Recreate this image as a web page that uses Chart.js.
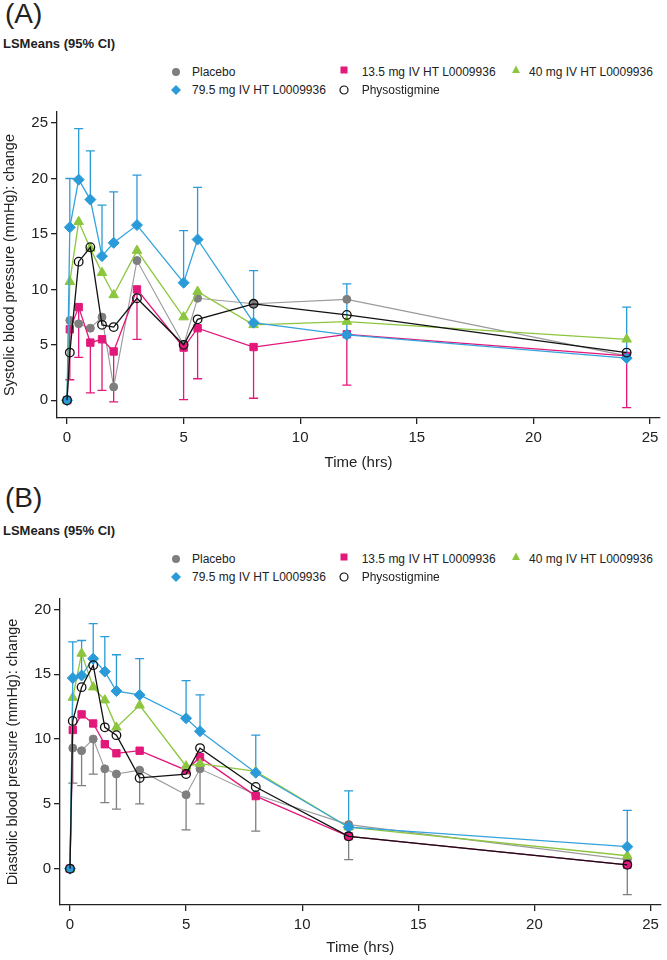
<!DOCTYPE html>
<html>
<head>
<meta charset="utf-8">
<script src="https://cdn.jsdelivr.net/npm/chart.js@4.4.1/dist/chart.umd.min.js"></script>
<style>
  body { margin: 0; background: #fff; width: 667px; height: 960px; position: relative; overflow: hidden;
         font-family: "Liberation Sans", Arial, sans-serif; color: #222; }
  .tag { position: absolute; left: 5px; font-size: 28px; line-height: 28px; }
  .sub { position: absolute; left: 3px; font-size: 13px; font-weight: bold; line-height: 13px; }
  .leg { position: absolute; font-size: 12px; line-height: 12px; white-space: nowrap; }
  .mk { position: absolute; }
  canvas { position: absolute; left: 0; }
</style>
</head>
<body>
<div class="tag" style="top:0px">(A)</div>
<div class="sub" style="top:37px">LSMeans (95% CI)</div>
<canvas id="chartA" width="667" height="375" style="top:100px"></canvas>

<div class="tag" style="top:484px">(B)</div>
<div class="sub" style="top:524px">LSMeans (95% CI)</div>
<canvas id="chartB" width="667" height="373" style="top:587px"></canvas>

<script>
// time points (hrs)
const times = [0, 0.12, 0.5, 1, 1.5, 2, 3, 5, 5.6, 8, 12, 24];
const seriesNames = ['Placebo', '13.5 mg IV HT L0009936', '40 mg IV HT L0009936', '79.5 mg IV HT L0009936', 'Physostigmine'];
const xTicks = [0, 5, 10, 15, 20, 25];
const yTicks = [0, 5, 10, 15, 20, 25];

// (A) systolic blood pressure change
const sbpPlacebo = [0, 7.2, 6.9, 6.5, 7.5, 1.2, 12.6, 5.0, 9.2, 8.7, 9.1, 4.0];
const sbp135     = [0, 6.4, 8.4, 5.2, 5.5, 4.4, 10.0, 4.75, 6.5, 4.8, 5.95, 4.0];
const sbp40      = [0, 10.7, 16.1, 13.7, 11.5, 9.5, 13.5, 7.5, 9.8, 6.8, 7.1, 5.5];
const sbp795     = [0, 15.6, 19.9, 18.1, 13.0, 14.2, 15.8, 10.6, 14.5, 7.0, 5.9, 3.8];
const sbpPhyso   = [0, 4.3, 12.5, 13.8, 6.8, 6.6, 9.2, 5.0, 7.3, 8.7, 7.7, 4.3];
const sbp135Low  = [null, 1.85, 3.86, 0.66, 0.9, -0.15, 5.5, 0.06, 1.94, 0.18, 1.37, -0.66];
const sbp795Up   = [null, 20.0, 24.5, 22.5, 17.6, 18.8, 20.3, 15.3, 19.2, 11.7, 10.5, 8.4];

// (B) diastolic blood pressure change
const dbpPlacebo = [0, 9.3, 9.1, 10.0, 7.7, 7.3, 7.6, 5.7, 7.7, 5.7, 3.4, 0.7];
const dbp135     = [0, 10.7, 11.9, 11.2, 9.6, 8.9, 9.1, 7.6, 8.6, 5.6, 2.5, 0.3];
const dbp40      = [0, 13.2, 16.6, 14.0, 13.0, 10.9, 12.6, 7.9, 8.1, 7.5, 3.2, 1.0];
const dbp795     = [0, 14.7, 14.9, 16.2, 15.2, 13.7, 13.4, 11.6, 10.6, 7.4, 3.2, 1.7];
const dbpPhyso   = [0, 11.4, 14.0, 15.7, 10.9, 10.3, 7.0, 7.3, 9.3, 6.3, 2.5, 0.3];
const dbpPlaceboLow = [null, 6.6, 6.4, 7.3, 5.1, 4.6, 5.0, 3.0, 5.0, 2.9, 0.7, -2.0];
const dbp795Up      = [null, 17.5, 17.6, 18.9, 17.9, 16.5, 16.2, 14.5, 13.4, 10.3, 6.0, 4.5];

const styles = [
  { color: '#7f7f7f', line: '#9a9a9a', shape: 'circle',   r: 4,   lw: 1.1 },
  { color: '#e2187b', line: '#e2187b', shape: 'rect',     r: 5.2, lw: 1.3 },
  { color: '#8cc63e', line: '#8cc63e', shape: 'triangle', r: 5.5, lw: 1.3 },
  { color: '#2a9bd8', line: '#35a3dc', shape: 'rectRot',  r: 5.5, lw: 1.3 },
  { color: '#111111', line: '#111111', shape: 'circle',   r: 4.3, lw: 1.3, open: true }
];
const FONT = '"Liberation Sans", Arial, sans-serif';

// legend drawn as html with small svg markers
function legend(top) {
  const slots = [[192, 0, 175.7], [361.7, 0, 344], [529, 0, 516], [192, 1, 175.7], [361.7, 1, 344]];
  seriesNames.forEach((name, i) => {
    const [tx, row, mx] = slots[i];
    const cy = top + row * 18.5;
    const d = document.createElement('div');
    d.className = 'leg';
    d.style.left = tx + 'px';
    d.style.top = (cy - 6) + 'px';
    d.textContent = name;
    document.body.appendChild(d);
    const s = styles[i];
    let shape = '';
    if (s.shape === 'circle' && s.open) shape = '<circle cx="7" cy="7" r="4" fill="none" stroke="#111" stroke-width="1.2"/>';
    else if (s.shape === 'circle') shape = '<circle cx="7" cy="7" r="4" fill="' + s.color + '"/>';
    else if (s.shape === 'rect') shape = '<rect x="3.5" y="3.5" width="7" height="7" fill="' + s.color + '"/>';
    else if (s.shape === 'triangle') shape = '<polygon points="7,2.5 11,10 3,10" fill="' + s.color + '"/>';
    else shape = '<polygon points="7,2 12,7 7,12 2,7" fill="' + s.color + '"/>';
    const m = document.createElement('div');
    m.className = 'mk';
    m.style.left = (mx - 7) + 'px';
    m.style.top = (cy - 7 + (s.shape === 'rect' || s.shape === 'triangle' ? -1.5 : 0)) + 'px';
    m.innerHTML = '<svg width="14" height="14">' + shape + '</svg>';
    document.body.appendChild(m);
  });
}
legend(71.7);
legend(558.5);

// one-sided confidence interval whiskers
const errorBars = {
  id: 'errorBars',
  beforeDatasetsDraw(chart) {
    const { ctx, scales: { x, y } } = chart;
    chart.data.datasets.forEach(ds => {
      if (!ds.ci) return;
      ctx.save();
      ctx.strokeStyle = ds.ciColor;
      ctx.lineWidth = 1.3;
      ds.data.forEach((p, i) => {
        const b = ds.ci[i];
        if (b == null) return;
        const px = x.getPixelForValue(p.x);
        const p0 = y.getPixelForValue(p.y);
        const p1 = y.getPixelForValue(b);
        ctx.beginPath();
        ctx.moveTo(px, p0); ctx.lineTo(px, p1);
        ctx.moveTo(px - 4.5, p1); ctx.lineTo(px + 4.5, p1);
        ctx.stroke();
      });
      ctx.restore();
    });
  }
};

function makeChart(id, values, ci, yTitle, yMin, yMax, padLeft, xAxisH) {
  const datasets = values.map((v, i) => {
    const s = styles[i];
    const ds = {
      label: seriesNames[i],
      data: times.map((t, k) => ({ x: t, y: v[k] })),
      borderColor: s.line,
      borderWidth: s.lw,
      pointStyle: s.shape,
      pointRadius: s.r,
      pointBorderWidth: s.open ? 1.3 : 1,
      pointBorderColor: s.color,
      pointBackgroundColor: s.open ? 'rgba(0,0,0,0)' : s.color,
      tension: 0,
      order: 5 - i
    };
    if (ci[i]) { ds.ci = ci[i]; ds.ciColor = s.color; }
    return ds;
  });

  return new Chart(document.getElementById(id), {
    type: 'line',
    data: { datasets },
    options: {
      responsive: false,
      animation: false,
      devicePixelRatio: 1,
      layout: { padding: { top: 10, right: 7 - padLeft, left: padLeft, bottom: 0 } },
      plugins: { legend: { display: false }, tooltip: { enabled: false } },
      scales: {
        x: {
          type: 'linear', min: -0.43, max: 25.43,
          afterFit: s => { s.height = xAxisH; },
          afterBuildTicks: s => { s.ticks = xTicks.map(v => ({ value: v })); },
          border: { color: '#222', width: 1.3 },
          grid: { drawOnChartArea: false, drawTicks: true, tickLength: 6, color: '#222', lineWidth: 1.3 },
          ticks: { autoSkip: false, maxRotation: 0, padding: 5, color: '#222', font: { family: FONT, size: 15 } },
          title: { display: true, text: 'Time (hrs)', color: '#222', font: { family: FONT, size: 15 }, padding: { top: 0, bottom: 3 } }
        },
        y: {
          type: 'linear', min: yMin, max: yMax,
          afterFit: s => { s.width = 57; },
          afterBuildTicks: s => { s.ticks = yTicks.filter(v => v <= yMax).map(v => ({ value: v })); },
          border: { color: '#222', width: 1.3 },
          grid: { drawOnChartArea: false, drawTicks: true, tickLength: 6, color: '#222', lineWidth: 1.3 },
          ticks: { autoSkip: false, padding: 3, color: '#222', font: { family: FONT, size: 15 } },
          title: { display: true, text: yTitle, color: '#222', font: { family: FONT, size: 14.5 }, padding: { top: 1, bottom: 0 } }
        }
      }
    },
    plugins: [errorBars]
  });
}

makeChart('chartA', [sbpPlacebo, sbp135, sbp40, sbp795, sbpPhyso],
  [null, sbp135Low, null, sbp795Up, null],
  'Systolic blood pressure (mmHg): change', -1.6, 26, 0, 57);
makeChart('chartB', [dbpPlacebo, dbp135, dbp40, dbp795, dbpPhyso],
  [dbpPlaceboLow, null, null, dbp795Up, null],
  'Diastolic blood pressure (mmHg): change', -2.8, 20.8, 3, 55);
</script>
</body>
</html>
